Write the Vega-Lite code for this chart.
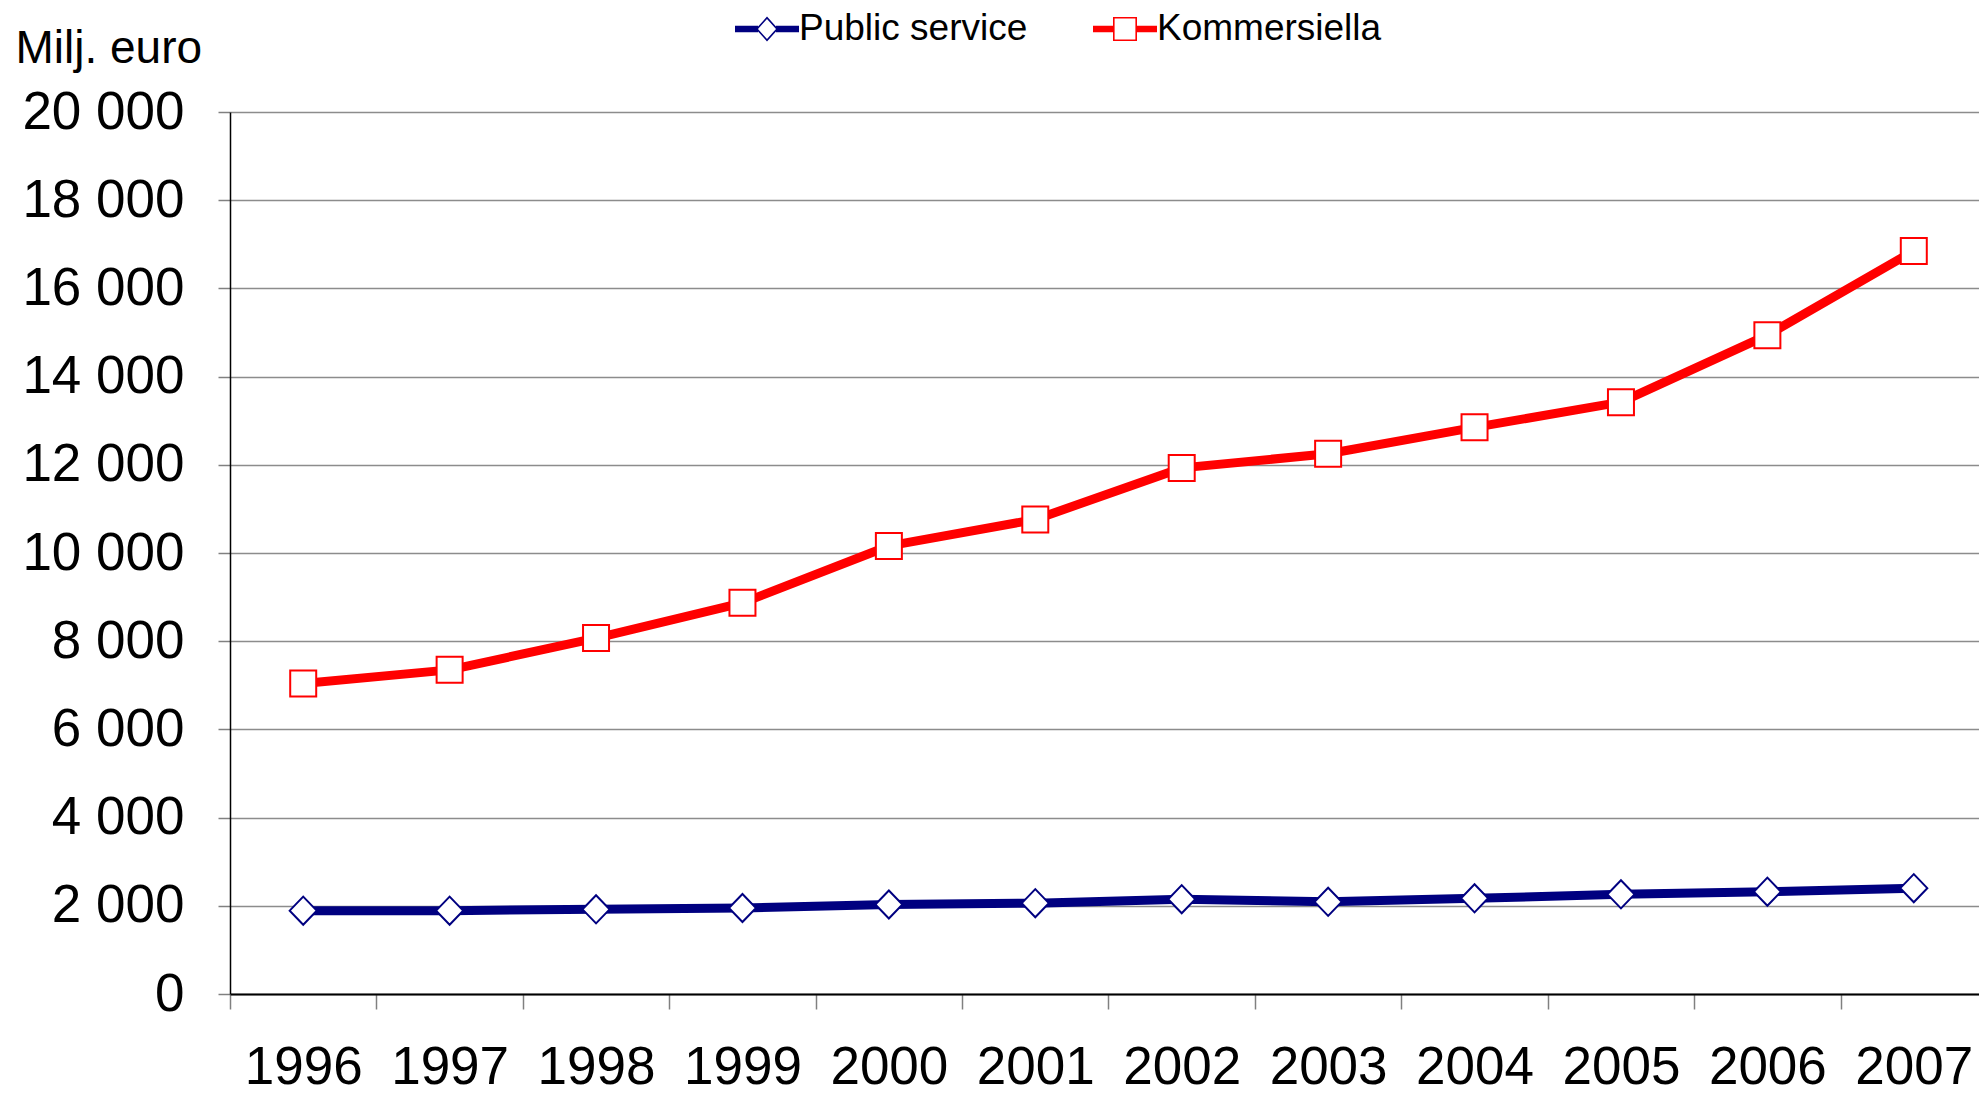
{
  "$schema": "https://vega.github.io/schema/vega-lite/v6.json",
  "autosize": {"type": "none"},
  "width": 1757,
  "height": 882,
  "padding": {"left": 230, "top": 112, "right": 0, "bottom": 101},
  "background": "white",
  "config": {
    "font": "Liberation Sans",
    "view": {"stroke": null},
    "axis": {"labelFont": "Liberation Sans", "labelColor": "black", "titleColor": "black"}
  },
  "data": {
    "values": [
      {"year": "1996", "series": "Public service", "value": 1890},
      {"year": "1997", "series": "Public service", "value": 1890},
      {"year": "1998", "series": "Public service", "value": 1920},
      {"year": "1999", "series": "Public service", "value": 1950},
      {"year": "2000", "series": "Public service", "value": 2030},
      {"year": "2001", "series": "Public service", "value": 2060},
      {"year": "2002", "series": "Public service", "value": 2150},
      {"year": "2003", "series": "Public service", "value": 2090},
      {"year": "2004", "series": "Public service", "value": 2170},
      {"year": "2005", "series": "Public service", "value": 2260},
      {"year": "2006", "series": "Public service", "value": 2320},
      {"year": "2007", "series": "Public service", "value": 2400},
      {"year": "1996", "series": "Kommersiella", "value": 7040},
      {"year": "1997", "series": "Kommersiella", "value": 7350},
      {"year": "1998", "series": "Kommersiella", "value": 8070},
      {"year": "1999", "series": "Kommersiella", "value": 8870},
      {"year": "2000", "series": "Kommersiella", "value": 10160},
      {"year": "2001", "series": "Kommersiella", "value": 10760},
      {"year": "2002", "series": "Kommersiella", "value": 11930},
      {"year": "2003", "series": "Kommersiella", "value": 12250},
      {"year": "2004", "series": "Kommersiella", "value": 12850},
      {"year": "2005", "series": "Kommersiella", "value": 13420},
      {"year": "2006", "series": "Kommersiella", "value": 14940},
      {"year": "2007", "series": "Kommersiella", "value": 16850}
    ]
  },
  "encoding": {
    "x": {
      "field": "year", "type": "ordinal",
      "scale": {"type": "band", "paddingInner": 0, "paddingOuter": 0},
      "axis": {
        "title": null, "labelAngle": 0, "labelFontSize": 53, "labelPadding": 32,
        "tickBand": "extent", "tickSize": 15, "tickColor": "#808080", "tickWidth": 1.5,
        "domainColor": "#000000", "domainWidth": 2, "grid": false, "labelBaseline": "top"
      }
    },
    "y": {
      "field": "value", "type": "quantitative",
      "scale": {"domain": [0, 20000], "nice": false},
      "axis": {
        "values": [0, 2000, 4000, 6000, 8000, 10000, 12000, 14000, 16000, 18000, 20000],
        "labelExpr": "replace(format(datum.value, ','), ',', ' ')",
        "labelFontSize": 53, "labelPadding": 34,
        "tickSize": 12, "tickColor": "#808080", "tickWidth": 1.5,
        "domainColor": "#000000", "domainWidth": 1.5,
        "grid": true, "gridColor": "#8c8c8c", "gridWidth": 1.5,
        "title": "Milj. euro", "titleAngle": 0, "titleAlign": "left", "titleBaseline": "middle",
        "titleX": -215, "titleY": -64, "titleFontSize": 46, "titleFontWeight": "normal"
      }
    }
  },
  "layer": [
    {
      "mark": {"type": "line", "strokeWidth": 9, "strokeJoin": "round"},
      "encoding": {
        "color": {
          "field": "series", "type": "nominal",
          "sort": ["Public service", "Kommersiella"],
          "scale": {"domain": ["Public service", "Kommersiella"], "range": ["#000080", "#ff0000"]},
          "legend": {
            "title": null, "orient": "none", "direction": "horizontal",
            "legendX": 517, "legendY": -103, "padding": 0,
            "labelFontSize": 37, "labelColor": "black", "labelOffset": 12, "labelLimit": 0,
            "columnPadding": 65, "symbolSize": 1600,
            "encode": {
              "symbols": {
                "update": {
                  "shape": {"signal": "datum.value == 'Public service' ? 'M-1.6,-0.16H-0.45V0.16H-1.6Z M0.45,-0.16H1.6V0.16H0.45Z M0,-0.62L0.56,0L0,0.62L-0.56,0Z M0,-0.5L-0.45,0L0,0.5L0.45,0Z' : 'M-1.6,-0.16H-0.58V0.16H-1.6Z M0.58,-0.16H1.6V0.16H0.58Z M-0.6,-0.6H0.6V0.6H-0.6Z M-0.52,-0.52V0.52H0.52V-0.52Z'"},
                  "fill": {"signal": "datum.value == 'Public service' ? '#000080' : '#ff0000'"},
                  "fillOpacity": {"value": 1},
                  "strokeWidth": {"value": 0}
                }
              }
            }
          }
        }
      }
    },
    {
      "transform": [{"filter": "datum.series == 'Public service'"}],
      "mark": {"type": "point", "shape": "M0,-1.08L1.04,0L0,1.08L-1.04,0Z", "fill": "white", "stroke": "#000080", "filled": false, "opacity": 1, "fillOpacity": 1, "size": 676, "strokeWidth": 2}
    },
    {
      "transform": [{"filter": "datum.series == 'Kommersiella'"}],
      "mark": {"type": "point", "shape": "M-1,-1H1V1H-1Z", "fill": "white", "stroke": "#ff0000", "filled": false, "opacity": 1, "fillOpacity": 1, "size": 676, "strokeWidth": 2}
    }
  ]
}
